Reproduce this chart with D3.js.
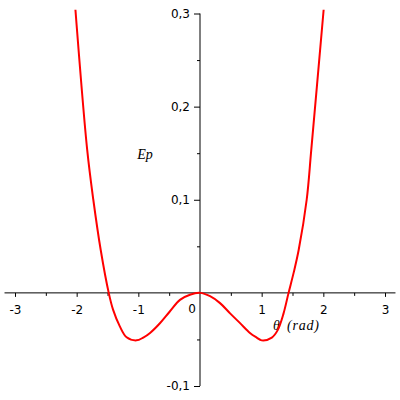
<!DOCTYPE html>
<html>
<head>
<meta charset="utf-8">
<script src="https://cdn.jsdelivr.net/npm/d3@7"></script>
<style>
  body { margin: 0; background: #fff; }
  .tick text { font-family: "DejaVu Sans", sans-serif; font-size: 12px; fill: #000; }
</style>
</head>
<body>
<div id="plot"></div>
<script>
// points (theta in rad, Ep)
var theta = [-2.02, -1.83, -1.73, -1.61, -1.48, -1.41, -1.30, -1.19, -1.03, -0.92, -0.81, -0.65, -0.49, -0.325, -0.163, 0,
             0.163, 0.325, 0.488, 0.65, 0.81, 0.92, 1.0, 1.165, 1.26, 1.355, 1.436, 1.52, 1.60, 1.73, 1.805, 2.005];
var ep = [0.304, 0.154, 0.100, 0.046, 0.0, -0.018, -0.036, -0.0477, -0.051, -0.048, -0.043, -0.0326, -0.020, -0.0075, -0.002, 0,
          -0.0036, -0.011, -0.022, -0.0325, -0.043, -0.048, -0.051, -0.048, -0.040, -0.022, 0.0, 0.022, 0.046, 0.100, 0.154, 0.304];

var xMajor = [-3, -2, -1, 1, 2, 3];
var xMinor = [-2.5, -1.5, -0.5, 0.5, 1.5, 2.5];
var yMajor = [-0.1, 0.1, 0.2, 0.3];
var yMinor = [-0.05, 0.05, 0.15, 0.25];

var width = 400, height = 400;

var svg = d3.select("#plot")
    .append("svg")
    .attr("width", width)
    .attr("height", height);

var x = d3.scaleLinear().domain([-3, 3]).range([15, 385]);
var y = d3.scaleLinear().domain([-0.1, 0.3]).range([386, 13.5]);

var fmt = function(d) { return d3.format(".1f")(d).replace(".", ",").replace("−", "-"); };

// x axis
var gx = svg.append("g").attr("transform", "translate(0," + y(0) + ")");
gx.append("line")
    .attr("x1", x(-3.17)).attr("x2", x(3.17))
    .attr("stroke", "#000").attr("stroke-width", 1);
gx.append("g")
    .call(d3.axisBottom(x).tickValues(xMinor).tickSize(3).tickFormat(""))
    .call(g => g.select(".domain").remove());
gx.append("g")
    .call(d3.axisBottom(x).tickValues(xMajor).tickSize(4).tickPadding(9)
        .tickFormat(function(d) { return String(d).replace("−", "-"); }))
    .call(g => g.select(".domain").remove());

// "0" label left of the y axis
svg.append("text")
    .attr("x", x(0) - 8).attr("y", y(0) + 20)
    .attr("text-anchor", "middle")
    .style("font-family", "DejaVu Sans, sans-serif")
    .style("font-size", "12px")
    .text("0");

// y axis
var gy = svg.append("g").attr("transform", "translate(" + x(0) + ",0)");
gy.append("line")
    .attr("y1", y(-0.1)).attr("y2", y(0.3))
    .attr("stroke", "#000").attr("stroke-width", 1);
gy.append("g")
    .call(d3.axisLeft(y).tickValues(yMinor).tickSize(3).tickFormat(""))
    .call(g => g.select(".domain").remove());
gy.append("g")
    .call(d3.axisLeft(y).tickValues(yMajor).tickSize(6).tickPadding(4).tickFormat(fmt))
    .call(g => g.select(".domain").remove());

svg.selectAll(".tick line").attr("stroke", "#000");
svg.selectAll(".tick text").attr("fill", "#000");

// axis titles
svg.append("text")
    .attr("x", 145).attr("y", 159)
    .attr("text-anchor", "middle")
    .style("font-family", "Liberation Serif, serif")
    .style("font-style", "italic")
    .style("font-size", "14px")
    .text("Ep");

svg.append("text")
    .attr("x", 273).attr("y", 330)
    .style("font-family", "Liberation Serif, serif")
    .style("font-style", "italic")
    .style("font-size", "14px")
    .style("word-spacing", "2px")
    .style("letter-spacing", "0.8px")
    .text("θ (rad)");

// curve
var pts = theta.map(function(t, i) { return [t, ep[i]]; });
var line = d3.line()
    .x(function(d) { return x(d[0]); })
    .y(function(d) { return y(d[1]); })
    .curve(d3.curveCatmullRom.alpha(0.5));

svg.append("path")
    .datum(pts)
    .attr("fill", "none")
    .attr("stroke", "#ff0000")
    .attr("stroke-width", 2)
    .attr("stroke-linejoin", "round")
    .attr("d", line);
</script>
</body>
</html>
